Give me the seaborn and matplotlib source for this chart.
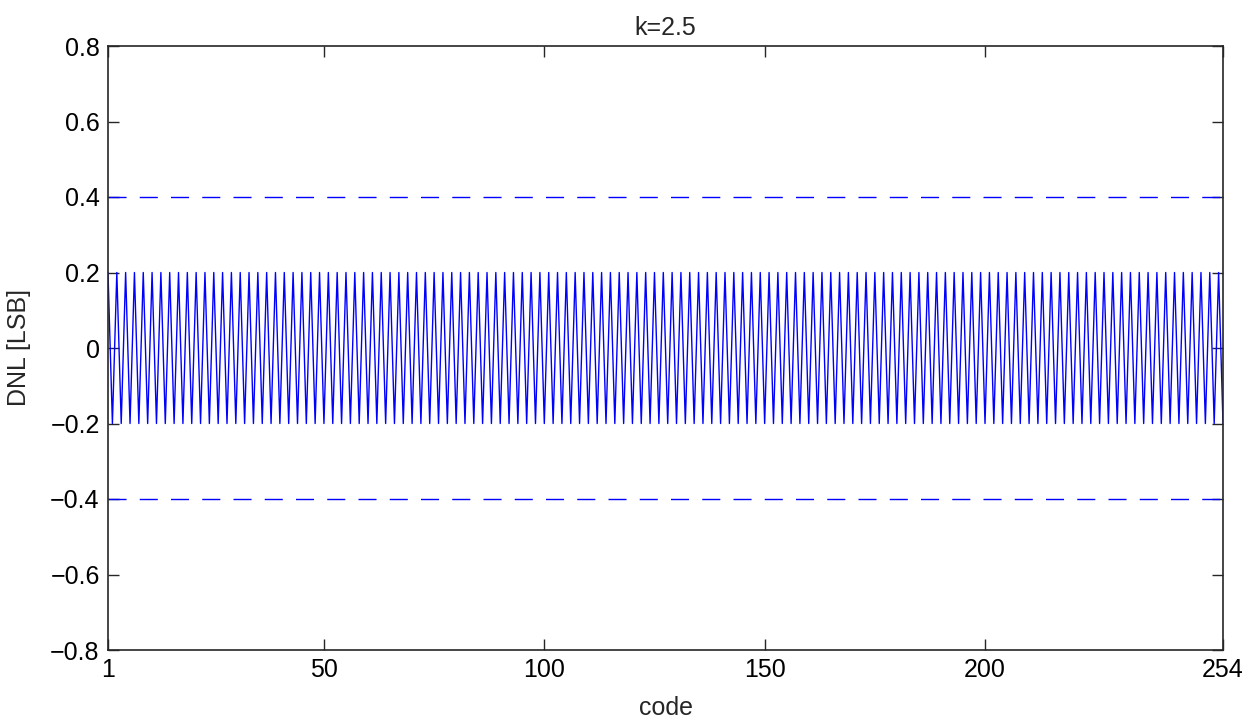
import matplotlib
matplotlib.use("Agg")
import matplotlib.pyplot as plt
import seaborn as sns
import pandas as pd

# DNL per output code (LSB), codes 1..254
dnl = [
    0.2, -0.2, 0.2, -0.2, 0.2, -0.2, 0.2, -0.2, 0.2, -0.2, 0.2, -0.2, 0.2, -0.2, 0.2, -0.2,
    0.2, -0.2, 0.2, -0.2, 0.2, -0.2, 0.2, -0.2, 0.2, -0.2, 0.2, -0.2, 0.2, -0.2, 0.2, -0.2,
    0.2, -0.2, 0.2, -0.2, 0.2, -0.2, 0.2, -0.2, 0.2, -0.2, 0.2, -0.2, 0.2, -0.2, 0.2, -0.2,
    0.2, -0.2, 0.2, -0.2, 0.2, -0.2, 0.2, -0.2, 0.2, -0.2, 0.2, -0.2, 0.2, -0.2, 0.2, -0.2,
    0.2, -0.2, 0.2, -0.2, 0.2, -0.2, 0.2, -0.2, 0.2, -0.2, 0.2, -0.2, 0.2, -0.2, 0.2, -0.2,
    0.2, -0.2, 0.2, -0.2, 0.2, -0.2, 0.2, -0.2, 0.2, -0.2, 0.2, -0.2, 0.2, -0.2, 0.2, -0.2,
    0.2, -0.2, 0.2, -0.2, 0.2, -0.2, 0.2, -0.2, 0.2, -0.2, 0.2, -0.2, 0.2, -0.2, 0.2, -0.2,
    0.2, -0.2, 0.2, -0.2, 0.2, -0.2, 0.2, -0.2, 0.2, -0.2, 0.2, -0.2, 0.2, -0.2, 0.2, -0.2,
    0.2, -0.2, 0.2, -0.2, 0.2, -0.2, 0.2, -0.2, 0.2, -0.2, 0.2, -0.2, 0.2, -0.2, 0.2, -0.2,
    0.2, -0.2, 0.2, -0.2, 0.2, -0.2, 0.2, -0.2, 0.2, -0.2, 0.2, -0.2, 0.2, -0.2, 0.2, -0.2,
    0.2, -0.2, 0.2, -0.2, 0.2, -0.2, 0.2, -0.2, 0.2, -0.2, 0.2, -0.2, 0.2, -0.2, 0.2, -0.2,
    0.2, -0.2, 0.2, -0.2, 0.2, -0.2, 0.2, -0.2, 0.2, -0.2, 0.2, -0.2, 0.2, -0.2, 0.2, -0.2,
    0.2, -0.2, 0.2, -0.2, 0.2, -0.2, 0.2, -0.2, 0.2, -0.2, 0.2, -0.2, 0.2, -0.2, 0.2, -0.2,
    0.2, -0.2, 0.2, -0.2, 0.2, -0.2, 0.2, -0.2, 0.2, -0.2, 0.2, -0.2, 0.2, -0.2, 0.2, -0.2,
    0.2, -0.2, 0.2, -0.2, 0.2, -0.2, 0.2, -0.2, 0.2, -0.2, 0.2, -0.2, 0.2, -0.2, 0.2, -0.2,
    0.2, -0.2, 0.2, -0.2, 0.2, -0.2, 0.2, -0.2, 0.2, -0.2, 0.2, -0.2, 0.2, -0.2,
]
codes = list(range(1, len(dnl) + 1))

# DNL specification limits (LSB)
limits = [0.4, -0.4]

x_ticks = [1, 50, 100, 150, 200, 254]
y_ticks = [-0.8, -0.6, -0.4, -0.2, 0, 0.2, 0.4, 0.6, 0.8]
y_tick_labels = ["\u22120.8", "\u22120.6", "\u22120.4", "\u22120.2", "0",
                 "0.2", "0.4", "0.6", "0.8"]

sns.set_style("white")
plt.rcParams["font.family"] = ["Liberation Sans", "DejaVu Sans"]

df = pd.DataFrame({"code": codes, "dnl": dnl})

fig = plt.figure(figsize=(12.58, 7.2), dpi=100)
ax = fig.add_axes([108 / 1258, 1 - 650 / 720, 1115 / 1258, 604 / 720])

sns.lineplot(data=df, x="code", y="dnl", ax=ax, color="#0000ff",
             linewidth=1.0, estimator=None, sort=False)

for lim in limits:
    ax.axhline(lim, color="#0000ff", linewidth=1.0, dashes=(13, 9.5))

ax.set_xlim(1, 254)
ax.set_ylim(-0.8, 0.8)
ax.set_xticks(x_ticks)
ax.set_xticklabels([str(t) for t in x_ticks])
ax.set_yticks(y_ticks)
ax.set_yticklabels(y_tick_labels)

ax.tick_params(axis="both", which="major", direction="in", length=8,
               width=1.0, color="#262626", labelsize=18, labelcolor="black",
               top=True, right=True, bottom=True, left=True, pad=6)

for side in ["left", "right", "top", "bottom"]:
    ax.spines[side].set_visible(True)
    ax.spines[side].set_color("#262626")
    ax.spines[side].set_linewidth(1.2)

ax.set_title("k=2.5", fontsize=18, pad=8)
ax.set_xlabel("code", fontsize=18, labelpad=10)
ax.set_ylabel("DNL [LSB]", fontsize=18, labelpad=14)

fig.savefig("out.png", dpi=100, facecolor="white")
